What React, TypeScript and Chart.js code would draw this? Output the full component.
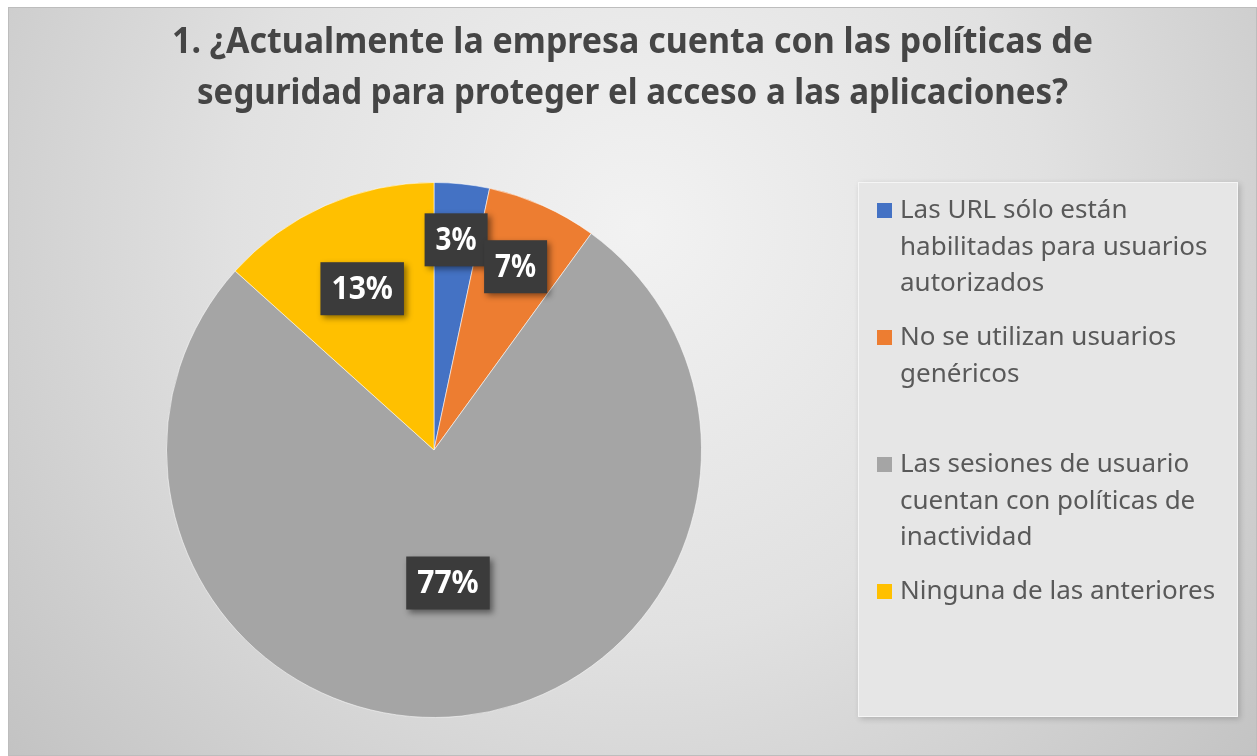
import React, { useEffect, useRef } from "react";
import { Chart, registerables } from "chart.js";

Chart.register(...registerables);

// Survey answers (number of respondents per option)
const categories: string[][] = [
  ["Las URL sólo están", "habilitadas para usuarios", "autorizados"],
  ["No se utilizan usuarios", "genéricos"],
  ["Las sesiones de usuario", "cuentan con políticas de", "inactividad"],
  ["Ninguna de las anteriores"],
];
const responses: number[] = [1, 2, 23, 4];
const sliceColors: string[] = ["#4472C4", "#ED7D31", "#A5A5A5", "#FFC000"];
const titleLines: string[] = [
  "1. ¿Actualmente la empresa cuenta con las políticas de",
  "seguridad para proteger el acceso a las aplicaciones?",
];

const W = 1249;
const H = 749;
const FONT = '"Noto Sans", "Open Sans", sans-serif';

// How far out along the radius each percentage badge sits
const labelRadius = [0.79, 0.75, 0.5, 0.66];

const backgroundPlugin = {
  id: "panelBackground",
  beforeDraw(chart: Chart) {
    const { ctx, width, height } = chart;
    ctx.save();
    const g = ctx.createRadialGradient(630, 220, 0, 630, 220, 900);
    g.addColorStop(0, "#f2f2f2");
    g.addColorStop(0.45, "#e1e1e1");
    g.addColorStop(1, "#bdbdbd");
    ctx.fillStyle = g;
    ctx.fillRect(0, 0, width, height);
    ctx.strokeStyle = "#bdbdbd";
    ctx.lineWidth = 1;
    ctx.strokeRect(0.5, 0.5, width - 1, height - 1);
    ctx.restore();
  },
};

const titlePlugin = {
  id: "wrappedTitle",
  beforeDatasetsDraw(chart: Chart) {
    const { ctx } = chart;
    ctx.save();
    ctx.fillStyle = "#454545";
    ctx.font = `bold 36px ${FONT}`;
    ctx.textAlign = "center";
    ctx.textBaseline = "alphabetic";
    const widths = [921, 871];
    titleLines.forEach((line, i) => {
      ctx.fillText(line, 624.5, 46 + i * 51, widths[i]);
    });
    ctx.restore();
  },
};

const legendPlugin = {
  id: "sideLegend",
  beforeDatasetsDraw(chart: Chart) {
    const { ctx } = chart;
    ctx.save();
    // legend panel
    ctx.shadowColor = "rgba(0,0,0,0.18)";
    ctx.shadowBlur = 6;
    ctx.shadowOffsetX = 2;
    ctx.shadowOffsetY = 2;
    ctx.fillStyle = "#e6e6e6";
    ctx.fillRect(850, 175, 380, 535);
    ctx.shadowColor = "transparent";
    ctx.strokeStyle = "rgba(255,255,255,0.6)";
    ctx.strokeRect(850.5, 175.5, 379, 534);

    ctx.font = `26px ${FONT}`;
    ctx.textBaseline = "alphabetic";
    ctx.textAlign = "left";
    categories.forEach((lines, i) => {
      const base = 211 + i * 127;
      ctx.fillStyle = sliceColors[i];
      ctx.fillRect(869, base - 15, 15, 15);
      ctx.fillStyle = "#595959";
      lines.forEach((line, j) => {
        ctx.fillText(line, 892, base + j * 36.5, 330);
      });
    });
    ctx.restore();
  },
};

const badgePlugin = {
  id: "percentBadges",
  afterDatasetsDraw(chart: Chart) {
    const { ctx } = chart;
    const meta = chart.getDatasetMeta(0);
    const total = responses.reduce((a, b) => a + b, 0);
    ctx.save();
    ctx.font = `bold 32px ${FONT}`;
    ctx.textAlign = "center";
    ctx.textBaseline = "middle";
    meta.data.forEach((el: any, i: number) => {
      const { x, y, startAngle, endAngle, outerRadius } = el.getProps(
        ["x", "y", "startAngle", "endAngle", "outerRadius"],
        true
      );
      const mid = (startAngle + endAngle) / 2;
      const r = outerRadius * labelRadius[i];
      const cx = x + Math.cos(mid) * r;
      const cy = y + Math.sin(mid) * r;
      const text = `${Math.round((responses[i] / total) * 100)}%`;
      const tw = Math.min(ctx.measureText(text).width, text.length * 20.5);
      const bw = tw + 22;
      const bh = 53;
      ctx.shadowColor = "rgba(0,0,0,0.45)";
      ctx.shadowBlur = 6;
      ctx.shadowOffsetX = 3;
      ctx.shadowOffsetY = 3;
      ctx.fillStyle = "#3b3b3b";
      ctx.fillRect(cx - bw / 2, cy - bh / 2, bw, bh);
      ctx.shadowColor = "transparent";
      ctx.fillStyle = "#ffffff";
      ctx.fillText(text, cx, cy + 1, tw);
    });
    ctx.restore();
  },
};

export default function App() {
  const canvasRef = useRef<HTMLCanvasElement | null>(null);

  useEffect(() => {
    document.body.style.margin = "0";
    document.body.style.overflow = "hidden";
    const canvas = canvasRef.current;
    if (!canvas) return;
    const chart = new Chart(canvas, {
      type: "pie",
      data: {
        labels: categories.map((c) => c.join(" ")),
        datasets: [
          {
            data: responses,
            backgroundColor: sliceColors,
            borderColor: "rgba(255,255,255,0.55)",
            borderWidth: 1,
          },
        ],
      },
      options: {
        responsive: false,
        animation: false,
        devicePixelRatio: 1,
        layout: { padding: { left: 158, right: 555, top: 175, bottom: 38 } },
        plugins: {
          legend: { display: false },
          title: { display: false },
          tooltip: { enabled: false },
        },
      },
      plugins: [backgroundPlugin, titlePlugin, legendPlugin, badgePlugin],
    });
    return () => chart.destroy();
  }, []);

  return (
    <div style={{ marginLeft: 8, marginTop: 7, width: W, height: H }}>
      <canvas ref={canvasRef} width={W} height={H} style={{ display: "block" }} />
    </div>
  );
}
